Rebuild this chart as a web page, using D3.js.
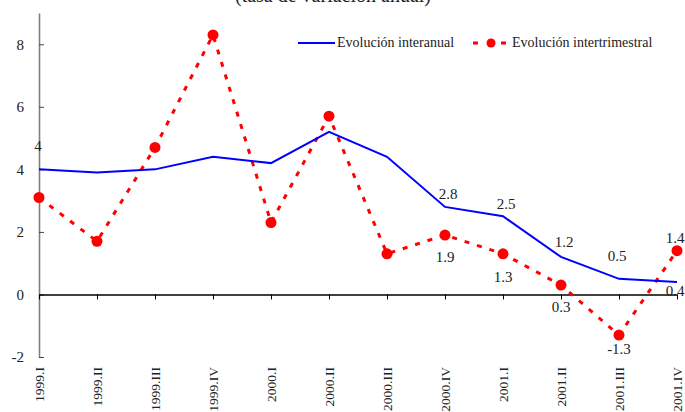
<!DOCTYPE html>
<html>
<head>
<meta charset="utf-8">
<script src="https://cdn.jsdelivr.net/npm/d3@7"></script>
<style>
  body { margin: 0; background: #fff; }
  svg { display: block; font-family: "Liberation Serif", "Times New Roman", serif; }
  svg text { font-family: "Liberation Serif", "Times New Roman", serif; }
</style>
</head>
<body>
<div id="chart"></div>
<script>
// Data
var quarters = ["1999.I", "1999.II", "1999.III", "1999.IV", "2000.I", "2000.II",
                "2000.III", "2000.IV", "2001.I", "2001.II", "2001.III", "2001.IV"];
var interanual = [4.0, 3.9, 4.0, 4.4, 4.2, 5.2, 4.4, 2.8, 2.5, 1.2, 0.5, 0.4];
var intertrimestral = [3.1, 1.7, 4.7, 8.3, 2.3, 5.7, 1.3, 1.9, 1.3, 0.3, -1.3, 1.4];
var yTicks = [-2, 0, 2, 4, 6, 8];

// which points get a value label, and nudges (px) for each
var labelsInter = [{i: 0, dx: -1, dy: -18}, {i: 7, dx: 3, dy: -8}, {i: 8, dx: 3, dy: -7},
                   {i: 9, dx: 3, dy: -10}, {i: 10, dx: -2, dy: -18}, {i: 11, dx: -2, dy: 14}];
var labelsTrim = [{i: 7, dx: 0, dy: 27}, {i: 8, dx: 0, dy: 28}, {i: 9, dx: 0, dy: 27},
                  {i: 10, dx: 0, dy: 19}, {i: 11, dx: -2, dy: -8}];

var width = 685, height = 412;

var svg = d3.select("#chart")
    .append("svg")
    .attr("width", width)
    .attr("height", height);

var x = d3.scalePoint()
    .domain(quarters)
    .range([39, 677]);

var y = d3.scaleLinear()
    .domain([-2, 9])
    .range([357, 13]);

// title (cut at the top, as in the source)
svg.append("text")
    .attr("x", 333)
    .attr("y", 2)
    .attr("text-anchor", "middle")
    .style("font-size", "20px")
    .style("fill", "#222")
    .text("(tasa de variación anual)");

// y axis
var yAxis = svg.append("g")
    .attr("transform", "translate(39,0)")
    .call(d3.axisLeft(y).tickValues(yTicks).tickSize(-5).tickSizeOuter(0).tickPadding(15)
        .tickFormat(function (d) { return String(d); }));
yAxis.attr("font-family", null);
yAxis.select(".domain").attr("stroke", "#808080").attr("stroke-width", 1.6);
yAxis.selectAll(".tick line").attr("stroke", "#444");
yAxis.selectAll(".tick text")
    .style("font-size", "15px")
    .style("fill", "#222");

// x axis at zero
var xAxis = svg.append("g")
    .attr("transform", "translate(0," + y(0) + ")")
    .call(d3.axisBottom(x).tickSize(5).tickSizeOuter(0).tickFormat(""));
xAxis.select(".domain").attr("stroke", "#000").attr("stroke-width", 1.6);
xAxis.selectAll(".tick line").attr("stroke", "#000");

// category labels, rotated
svg.append("g")
    .selectAll("text")
    .data(quarters)
    .enter()
    .append("text")
    .attr("transform", function (d) { return "translate(" + x(d) + ",367) rotate(-90)"; })
    .attr("text-anchor", "end")
    .attr("dy", "0.35em")
    .style("font-size", "13.5px")
    .style("fill", "#222")
    .text(function (d) { return d; });

// lines
var line = d3.line()
    .x(function (d, i) { return x(quarters[i]); })
    .y(function (d) { return y(d); });

svg.append("path")
    .datum(intertrimestral)
    .attr("d", line)
    .attr("fill", "none")
    .attr("stroke", "#ff0000")
    .attr("stroke-width", 3)
    .attr("stroke-dasharray", "5,8");

svg.append("path")
    .datum(interanual)
    .attr("d", line)
    .attr("fill", "none")
    .attr("stroke", "#0000ff")
    .attr("stroke-width", 2);

svg.append("g")
    .selectAll("circle")
    .data(intertrimestral)
    .enter()
    .append("circle")
    .attr("cx", function (d, i) { return x(quarters[i]); })
    .attr("cy", function (d) { return y(d); })
    .attr("r", 5.5)
    .attr("fill", "#ff0000");

// value labels
function addLabels(specs, values) {
    svg.append("g")
        .selectAll("text")
        .data(specs)
        .enter()
        .append("text")
        .attr("x", function (d) { return x(quarters[d.i]) + d.dx; })
        .attr("y", function (d) { return y(values[d.i]) + d.dy; })
        .attr("text-anchor", "middle")
        .style("font-size", "15px")
        .style("fill", "#222")
        .text(function (d) { return String(values[d.i]); });
}
addLabels(labelsInter, interanual);
addLabels(labelsTrim, intertrimestral);

// legend
var legend = svg.append("g").style("font-size", "14px").style("fill", "#222");
legend.append("line")
    .attr("x1", 298).attr("x2", 335).attr("y1", 43).attr("y2", 43)
    .attr("stroke", "#0000ff").attr("stroke-width", 2);
legend.append("text").attr("x", 337).attr("y", 47).text("Evolución interanual");

legend.append("line")
    .attr("x1", 473).attr("x2", 506).attr("y1", 43).attr("y2", 43)
    .attr("stroke", "#ff0000").attr("stroke-width", 3)
    .attr("stroke-dasharray", "5,23");
legend.append("circle").attr("cx", 491).attr("cy", 43).attr("r", 4.5).attr("fill", "#ff0000");
legend.append("text").attr("x", 512).attr("y", 47).text("Evolución intertrimestral");
</script>
</body>
</html>
